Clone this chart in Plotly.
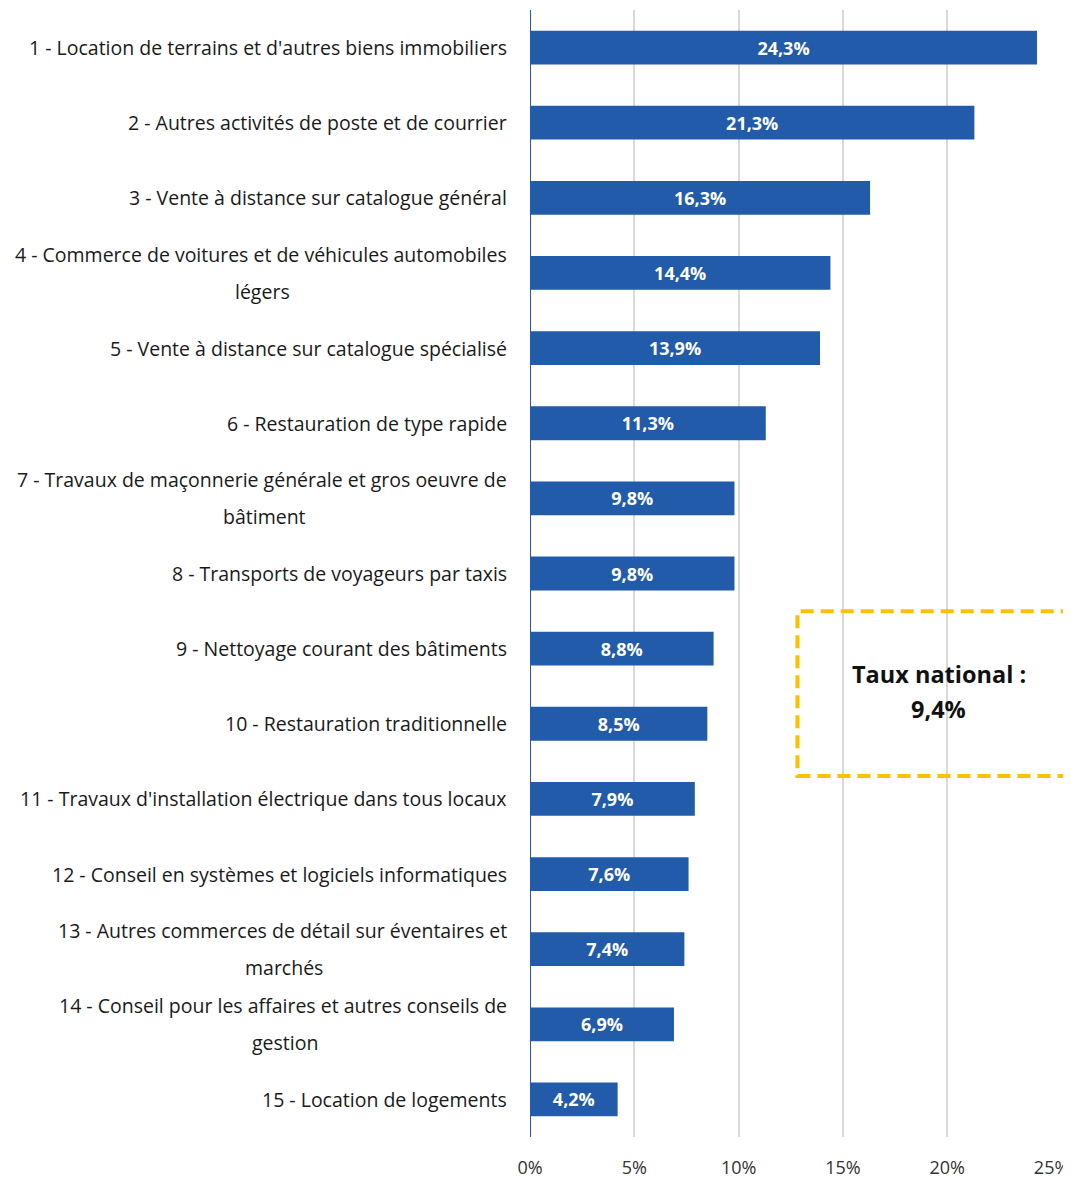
import plotly.graph_objects as go

categories = [
    "1 - Location de terrains et d'autres biens immobiliers",
    "2 - Autres activités de poste et de courrier",
    "3 - Vente à distance sur catalogue général",
    "4 - Commerce de voitures et de véhicules automobiles<br>légers",
    "5 - Vente à distance sur catalogue spécialisé",
    "6 - Restauration de type rapide",
    "7 - Travaux de maçonnerie générale et gros oeuvre de<br>bâtiment",
    "8 - Transports de voyageurs par taxis",
    "9 - Nettoyage courant des bâtiments",
    "10 - Restauration traditionnelle",
    "11 - Travaux d'installation électrique dans tous locaux",
    "12 - Conseil en systèmes et logiciels informatiques",
    "13 - Autres commerces de détail sur éventaires et<br>marchés",
    "14 - Conseil pour les affaires et autres conseils de<br>gestion",
    "15 - Location de logements",
]
values = [24.3, 21.3, 16.3, 14.4, 13.9, 11.3, 9.8, 9.8, 8.8, 8.5, 7.9, 7.6, 7.4, 6.9, 4.2]
x_ticks = [0, 5, 10, 15, 20, 25]
x_tick_labels = ["0%", "5%", "10%", "15%", "20%", "25%"]
national_rate = 9.4

FONT = "Open Sans"
BLUE = "#215BA9"
LABEL_SIZE = 19.5

# Approximate Open Sans advance widths (units per 2048 em), used to centre
# the second line of wrapped labels under the first one.
_W = {" ": 532, "-": 659, "'": 446, "a": 1139, "b": 1255, "c": 975, "d": 1255,
      "e": 1149, "f": 694, "g": 1122, "h": 1257, "i": 518, "j": 518, "k": 1075,
      "l": 518, "m": 1905, "n": 1257, "o": 1237, "p": 1255, "q": 1255, "r": 836,
      "s": 977, "t": 723, "u": 1257, "v": 1026, "w": 1593, "x": 1073, "y": 1028,
      "z": 946, "é": 1149, "è": 1149, "ç": 975, "â": 1139, "A": 1296, "C": 1296,
      "T": 1081}


def text_width(s, size):
    return sum(_W.get(ch, 1171 if ch.isdigit() else 1150) for ch in s) / 2048 * size


def fmt(v):
    return f"{v:.1f}".replace(".", ",") + "%"


fig = go.Figure()
fig.add_trace(go.Bar(
    x=values,
    y=categories,
    orientation="h",
    marker=dict(color=BLUE, line=dict(width=0)),
    width=0.45,
    text=[fmt(v) for v in values],
    textposition="inside",
    insidetextanchor="middle",
    textfont=dict(family=FONT, size=18, color="white", weight="bold"),
    hoverinfo="skip",
))

annotations = []
LABEL_GAP = 21
half_gap = 37 / 2
for cat in categories:
    lines = cat.split("<br>")
    font = dict(family=FONT, size=LABEL_SIZE, color="#1a1a1a")
    if len(lines) == 1:
        annotations.append(dict(x=0, xref="paper", y=cat, yref="y", showarrow=False,
                                xanchor="right", xshift=-LABEL_GAP, text=lines[0], font=font))
    else:
        w1 = text_width(lines[0], LABEL_SIZE)
        annotations.append(dict(x=0, xref="paper", y=cat, yref="y", showarrow=False,
                                xanchor="right", xshift=-LABEL_GAP, yshift=half_gap,
                                text=lines[0], font=font))
        annotations.append(dict(x=0, xref="paper", y=cat, yref="y", showarrow=False,
                                xanchor="center", xshift=-LABEL_GAP - w1 / 2, yshift=-half_gap,
                                text=lines[1], font=font))

annotations.append(dict(x=0.783, xref="paper", y=0.4106, yref="paper", xanchor="center",
                        text="Taux national :", showarrow=False,
                        font=dict(family=FONT, size=23.5, color="#111111", weight="bold")))
annotations.append(dict(x=0.783, xref="paper", y=0.3796, yref="paper", xanchor="center",
                        text=fmt(national_rate), showarrow=False,
                        font=dict(family=FONT, size=23.5, color="#111111", weight="bold")))

fig.update_layout(
    width=1063, height=1173,
    margin=dict(l=522, r=18, t=2, b=41),
    plot_bgcolor="white", paper_bgcolor="white",
    showlegend=False,
    annotations=annotations,
    xaxis=dict(
        range=[0, 25.02], tickvals=x_ticks, ticktext=x_tick_labels,
        showgrid=True, gridcolor="#D9D9D9", gridwidth=2,
        zeroline=False, showline=False, ticks="",
        tickfont=dict(family=FONT, size=18, color="#333333"),
        ticklabelstandoff=18, fixedrange=True,
    ),
    yaxis=dict(
        autorange="reversed", showticklabels=False, showgrid=False,
        zeroline=False, showline=False, ticks="", fixedrange=True,
    ),
    shapes=[
        dict(type="line", xref="x", yref="paper", x0=0, x1=0, y0=0, y1=1,
             line=dict(color=BLUE, width=2)),
        dict(type="rect", xref="paper", yref="paper",
             x0=0.5124, x1=1.06, y0=0.3204, y1=0.4664,
             line=dict(color="#FFC000", width=4, dash="13px,7px")),
    ],
)

fig.write_html("out.html")
